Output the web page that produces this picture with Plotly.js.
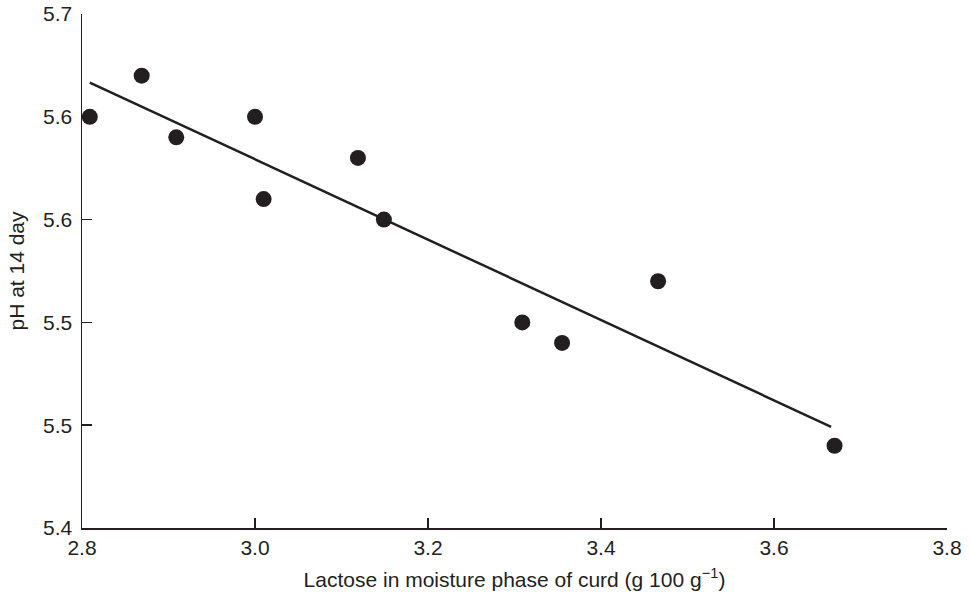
<!DOCTYPE html>
<html>
<head>
<meta charset="utf-8">
<script src="https://cdn.plot.ly/plotly-3.0.1.min.js"></script>
<style>html,body{margin:0;padding:0;background:#fff;}#chart{width:970px;height:595px;}</style>
</head>
<body>
<div id="chart"></div>
<script>
const lactose = [2.809, 2.869, 2.909, 3.000, 3.010, 3.119, 3.149, 3.309, 3.355, 3.466, 3.670];
const pH14 = [5.640, 5.664, 5.628, 5.640, 5.592, 5.616, 5.580, 5.520, 5.508, 5.544, 5.448];
const fitX = [2.809, 3.666];
const fitY = [5.660, 5.459];
const xTickVals = [2.8, 3.0, 3.2, 3.4, 3.6, 3.8];
const xTickText = ["2.8", "3.0", "3.2", "3.4", "3.6", "3.8"];
const yTickVals = [5.40, 5.46, 5.52, 5.58, 5.64, 5.70];
const yTickText = ["5.4", "5.5", "5.5", "5.6", "5.6", "5.7"];

const ink = '#231f20';
const data = [
  {x: fitX, y: fitY, type: 'scatter', mode: 'lines', line: {color: ink, width: 2.5}, hoverinfo: 'skip'},
  {x: lactose, y: pH14, type: 'scatter', mode: 'markers', marker: {color: ink, size: 16}}
];
const layout = {
  width: 970, height: 595,
  margin: {l: 82, r: 23, t: 14, b: 67},
  showlegend: false,
  paper_bgcolor: '#fff', plot_bgcolor: '#fff',
  font: {family: 'Liberation Sans, Arial, sans-serif', color: ink, size: 21},
  xaxis: {
    range: [2.8, 3.8], tickmode: 'array', tickvals: xTickVals, ticktext: xTickText,
    showgrid: false, zeroline: false, showline: true, linecolor: ink, linewidth: 1.5,
    ticks: 'inside', ticklen: 10, tickwidth: 1.5, tickcolor: ink,
    tickfont: {size: 21}, mirror: false,
    title: {text: 'Lactose in moisture phase of curd (g 100 g<sup>\u22121</sup>)', font: {size: 21}, standoff: 14}
  },
  yaxis: {
    range: [5.4, 5.7], tickmode: 'array', tickvals: yTickVals, ticktext: yTickText,
    showgrid: false, zeroline: false, showline: true, linecolor: ink, linewidth: 1.5,
    ticks: 'inside', ticklen: 10, tickwidth: 1.5, tickcolor: ink,
    tickfont: {size: 21}, mirror: false, ticklabelstandoff: 4,
    title: {text: 'pH at 14 day', font: {size: 21}, standoff: 12}
  }
};
Plotly.newPlot('chart', data, layout, {displayModeBar: false, staticPlot: true});
</script>
</body>
</html>
